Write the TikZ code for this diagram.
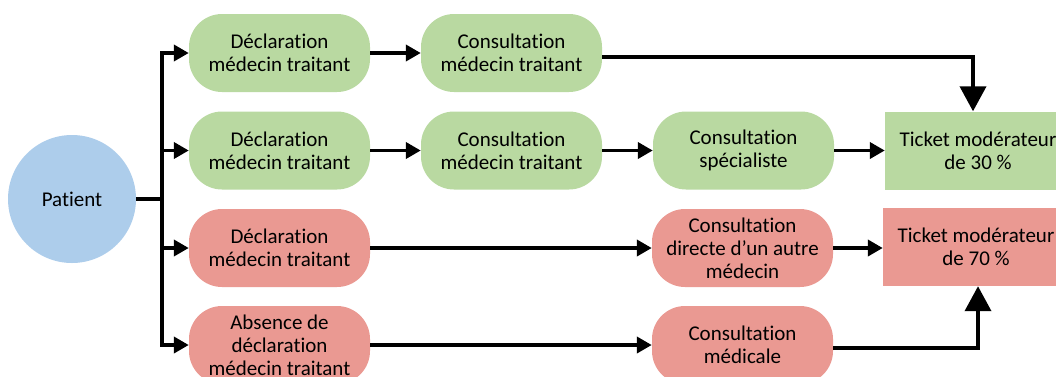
\documentclass[tikz,border=0pt]{standalone}
\usepackage{fontspec}
\setmainfont{Carlito}[Ligatures=NoCommon]
\usetikzlibrary{arrows.meta}
\definecolor{pgreen}{RGB}{185,217,161}
\definecolor{pred}{RGB}{234,153,146}
\definecolor{pblue}{RGB}{173,205,235}
\begin{document}
\begin{tikzpicture}[x=1pt,y=-1pt,
  every node/.style={font=\fontsize{21}{23}\selectfont, align=center, inner sep=0pt},
  pill/.style={rounded corners=33pt, minimum width=181pt, minimum height=78pt},
  gpill/.style={pill, fill=pgreen},
  rpill/.style={pill, fill=pred},
  ticket/.style={minimum width=186pt, minimum height=78pt},
  conn/.style={line width=3.8pt, -{Triangle[length=15pt,width=16pt]}},
  bigconn/.style={line width=3.8pt, -{Triangle[length=25pt,width=26pt]}},
  plain/.style={line width=3.8pt}]
\useasboundingbox (0,0) rectangle (1056,376);
\clip (0,0) rectangle (1056,376);
\node[circle, fill=pblue, minimum size=128pt] (pat) at (72,199) {Patient};
\node[gpill] (d1) at (279.5,53) {Déclaration\\médecin traitant};
\node[gpill] (c1) at (511.5,53) {Consultation\\médecin traitant};
\node[gpill] (d2) at (279.5,150.5) {Déclaration\\médecin traitant};
\node[gpill] (c2) at (511.5,150.5) {Consultation\\médecin traitant};
\node[gpill] (s2) at (743.5,150.5) {Consultation\\spécialiste};
\node[rpill] (d3) at (279.5,248) {Déclaration\\médecin traitant};
\node[rpill] (o3) at (742.5,248) {Consultation\\directe d’un autre\\médecin};
\node[rpill] (d4) at (279.5,345) {Absence de\\déclaration\\médecin traitant};
\node[rpill] (m4) at (742.5,345) {Consultation\\médicale};
\node[ticket, fill=pgreen] (t30) at (978,150.5) {Ticket modérateur\\de 30 \%};
\node[ticket, fill=pred] (t70) at (976,247) {Ticket modérateur\\de 70 \%};
\coordinate (fork) at (162,199);
\draw[plain] (pat.east) -- (fork);
\draw[plain] (162,51) -- (162,347);
\draw[conn] (fork |- d1.west) -- (d1.west);
\draw[conn] (fork |- d2.west) -- (d2.west);
\draw[conn] (fork |- d3.west) -- (d3.west);
\draw[conn] (fork |- d4.west) -- (d4.west);
\draw[conn] (d1) -- (c1);
\draw[conn] (d2) -- (c2);
\draw[conn] (c2) -- (s2);
\draw[conn] (s2.east) -- (s2.east -| t30.west);
\draw[conn] (d3.east) -- (o3.west);
\draw[conn] (o3.east) -- (o3.east -| t70.west);
\draw[conn] (d4.east) -- (m4.west);
\draw[bigconn] ([yshift=-4pt]c1.east) -| (t30.north -| 973,0);
\draw[bigconn] ([yshift=-3pt]m4.east) -| (t70.south -| 978,0);
\end{tikzpicture}
\end{document}
